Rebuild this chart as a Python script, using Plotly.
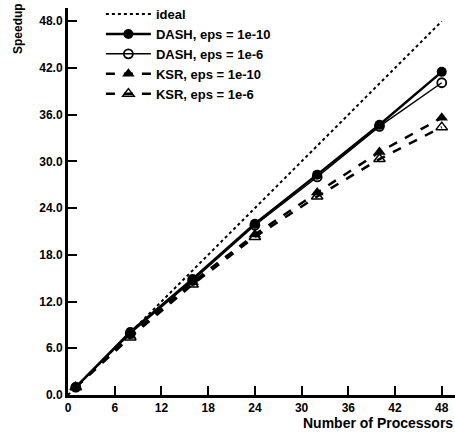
import plotly.graph_objects as go

processors = [1, 8, 16, 24, 32, 40, 48]
ideal_x = [0, 48]
ideal_y = [0, 48]
dash_1e10 = [1.0, 8.1, 14.9, 22.0, 28.3, 34.7, 41.5]
dash_1e6 = [1.0, 7.9, 14.7, 21.8, 28.0, 34.5, 40.1]
ksr_1e10 = [1.0, 7.6, 14.5, 20.6, 26.0, 31.2, 35.6]
ksr_1e6 = [1.0, 7.4, 14.2, 20.3, 25.5, 30.3, 34.4]
x_ticks = [0, 6, 12, 18, 24, 30, 36, 42, 48]
y_ticks = [0, 6, 12, 18, 24, 30, 36, 42, 48]

FONT = "Liberation Sans, Arial, sans-serif"

fig = go.Figure()
fig.add_trace(go.Scatter(x=ideal_x, y=ideal_y, mode="lines", name="ideal",
                         line=dict(color="black", width=2, dash="dot")))
fig.add_trace(go.Scatter(x=processors, y=dash_1e10, mode="lines+markers",
                         name="DASH, eps = 1e-10",
                         line=dict(color="black", width=2.5),
                         marker=dict(symbol="circle", size=10, color="black")))
fig.add_trace(go.Scatter(x=processors, y=dash_1e6, mode="lines+markers",
                         name="DASH, eps = 1e-6",
                         line=dict(color="black", width=1.5),
                         marker=dict(symbol="circle-open", size=9, color="black",
                                     line=dict(width=1.8, color="black"))))
fig.add_trace(go.Scatter(x=processors, y=ksr_1e10, mode="lines+markers",
                         name="KSR, eps = 1e-10",
                         line=dict(color="black", width=2.5, dash="dash"),
                         marker=dict(symbol="triangle-up", size=11, color="black")))
fig.add_trace(go.Scatter(x=processors, y=ksr_1e6, mode="lines+markers",
                         name="KSR, eps = 1e-6",
                         line=dict(color="black", width=2.5, dash="dash"),
                         marker=dict(symbol="triangle-up-open", size=10, color="black",
                                     line=dict(width=1.5, color="black"))))

axis_common = dict(
    range=[0, 49.7], showgrid=False, zeroline=False, showline=True,
    linecolor="black", linewidth=3, ticks="inside", ticklen=9, tickwidth=2,
    tickcolor="black", automargin=False,
    tickfont=dict(family=FONT, size=12, color="black", weight="bold"),
)

fig.update_layout(
    width=455, height=435,
    margin=dict(l=68, r=0, t=8, b=40, autoexpand=False),
    paper_bgcolor="white", plot_bgcolor="white",
    font=dict(family=FONT, size=12, color="black", weight="bold"),
    showlegend=True,
    legend=dict(x=0.085, y=1.023, xanchor="left", yanchor="top",
                bgcolor="rgba(0,0,0,0)", itemwidth=45, tracegroupgap=0,
                font=dict(family=FONT, size=13, color="black", weight="bold")),
    xaxis=dict(tickvals=x_ticks, ticktext=[str(v) for v in x_ticks], **axis_common),
    yaxis=dict(tickvals=y_ticks, ticktext=[f"{v:.1f}" for v in y_ticks], **axis_common),
    annotations=[
        dict(text="Speedup", xref="paper", yref="paper", x=-0.129, y=0.946,
             xanchor="center", yanchor="middle", showarrow=False, textangle=-90,
             font=dict(family=FONT, size=12, color="black", weight="bold")),
        dict(text="Number of Processors", xref="paper", yref="paper", x=1.0, y=-0.072,
             xanchor="right", yanchor="middle", showarrow=False,
             font=dict(family=FONT, size=14, color="black", weight="bold")),
    ],
)

fig.write_html("out.html", config={"displayModeBar": False},
               post_script="document.body.style.margin='0';document.body.style.overflow='hidden';")
